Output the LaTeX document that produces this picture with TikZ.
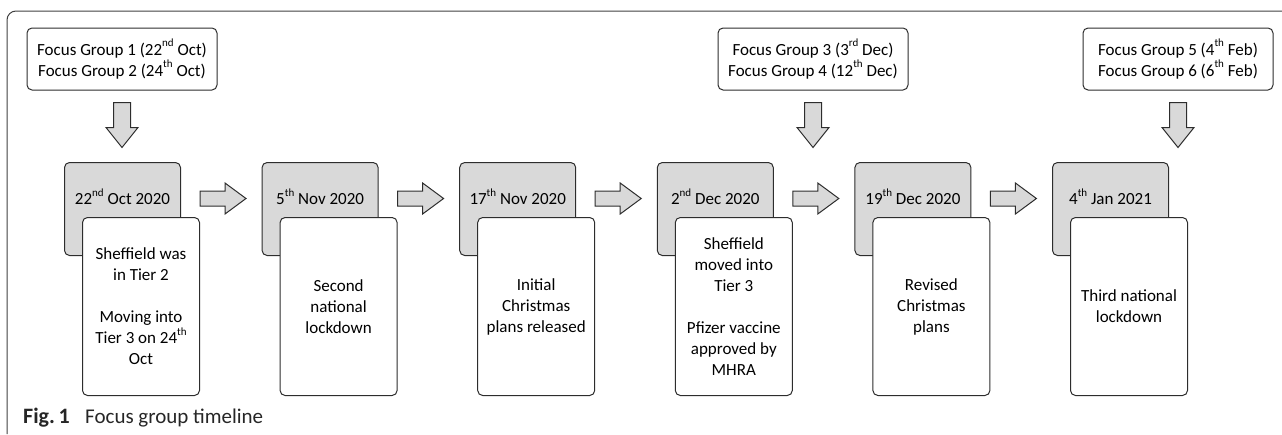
\documentclass[tikz,border=0pt]{standalone}
\usepackage{fontspec}
\setmainfont{Carlito}
\usetikzlibrary{calc}
\definecolor{boxgray}{RGB}{217,217,217}
\definecolor{lineclr}{RGB}{45,45,45}
\newcommand\bodyfont{\fontsize{17}{21}\selectfont}
\newcommand\capfont{\fontsize{22}{26}\selectfont}
\newcommand\sps[1]{\raisebox{0.48em}{\fontsize{11}{11}\selectfont #1}}
\begin{document}
\begin{tikzpicture}[x=1pt,y=-1pt,
  every node/.style={text=black},
  gbox/.style={draw=lineclr, fill=boxgray, rounded corners=5pt, minimum width=116pt, minimum height=93pt, anchor=north west, line width=1pt, inner sep=0pt},
  wbox/.style={draw=lineclr, fill=white, rounded corners=5pt, minimum width=117pt, minimum height=178pt, anchor=north west, line width=1pt, align=center, font=\bodyfont, inner sep=0pt},
  fbox/.style={draw=lineclr, fill=white, rounded corners=5pt, minimum width=190pt, minimum height=62pt, line width=1pt, align=center, font=\bodyfont, inner sep=0pt},
  datetxt/.style={font=\bodyfont, inner sep=0pt},
  captxt/.style={anchor=base west, inner sep=0pt, font=\capfont, text=black!85},
  barrow/.style={draw=lineclr, fill=boxgray, line width=1pt, line join=miter},
  frameline/.style={draw=black!75, line width=1pt, rounded corners=9pt}]
\useasboundingbox (0,0) rectangle (1282,434);
% outer frame
\draw[frameline] (7,434) -- (7,11) -- (1282,11);
% focus group boxes
\node[fbox] (f1) at (122,59) {Focus Group 1 (22\sps{nd} Oct)\\Focus Group 2 (24\sps{th} Oct)};
\node[fbox] (f2) at (813,59) {Focus Group 3 (3\sps{rd} Dec)\\Focus Group 4 (12\sps{th} Dec)};
\node[fbox] (f3) at (1178,59) {Focus Group 5 (4\sps{th} Feb)\\Focus Group 6 (6\sps{th} Feb)};
% timeline boxes
\foreach \i/\d/\t in {
  0/{22\sps{nd} Oct 2020}/{Sheffield was\\in Tier 2\\[21pt]Moving into\\Tier 3 on 24\sps{th}\\Oct},
  1/{5\sps{th} Nov 2020}/{Second\\national\\lockdown},
  2/{17\sps{th} Nov 2020}/{Initial\\Christmas\\plans released},
  3/{2\sps{nd} Dec 2020}/{Sheffield\\moved into\\Tier 3\\[21pt]Pfizer vaccine\\approved by\\MHRA},
  4/{19\sps{th} Dec 2020}/{Revised\\Christmas\\plans},
  5/{4\sps{th} Jan 2021}/{Third national\\lockdown}} {
  \node[gbox] (g\i) at ({64+197.6*\i},162) {};
  \node[datetxt] (d\i) at ($(g\i.north)+(0,35)$) {\d};
  \node[wbox] (w\i) at ({82+197.6*\i},217) {\t};
}
% right block arrows between timeline boxes
\foreach \i in {0,...,4} {
  \draw[barrow, shift={($(w\i.east |- d\i.center)+(0,1.5)$)}]
    (0,-7.5) -- (25,-7.5) -- (25,-15.5) -- (46,0) -- (25,15.5) -- (25,7.5) -- (0,7.5) -- cycle;
}
% down block arrows
\foreach \f in {f1,f2,f3} {
  \draw[barrow, shift={($(\f.south)+(0,12)$)}]
    (-8.5,0) -- (8.5,0) -- (8.5,25) -- (16,25) -- (0,45) -- (-16,25) -- (-8.5,25) -- cycle;
}
% caption
\node[captxt] (capA) at (23,423) {\textbf{Fig.\,1}};
\node[captxt] (capB) at (85,423) {\resizebox{178pt}{!}{Focus group timeline}};
\end{tikzpicture}
\end{document}
